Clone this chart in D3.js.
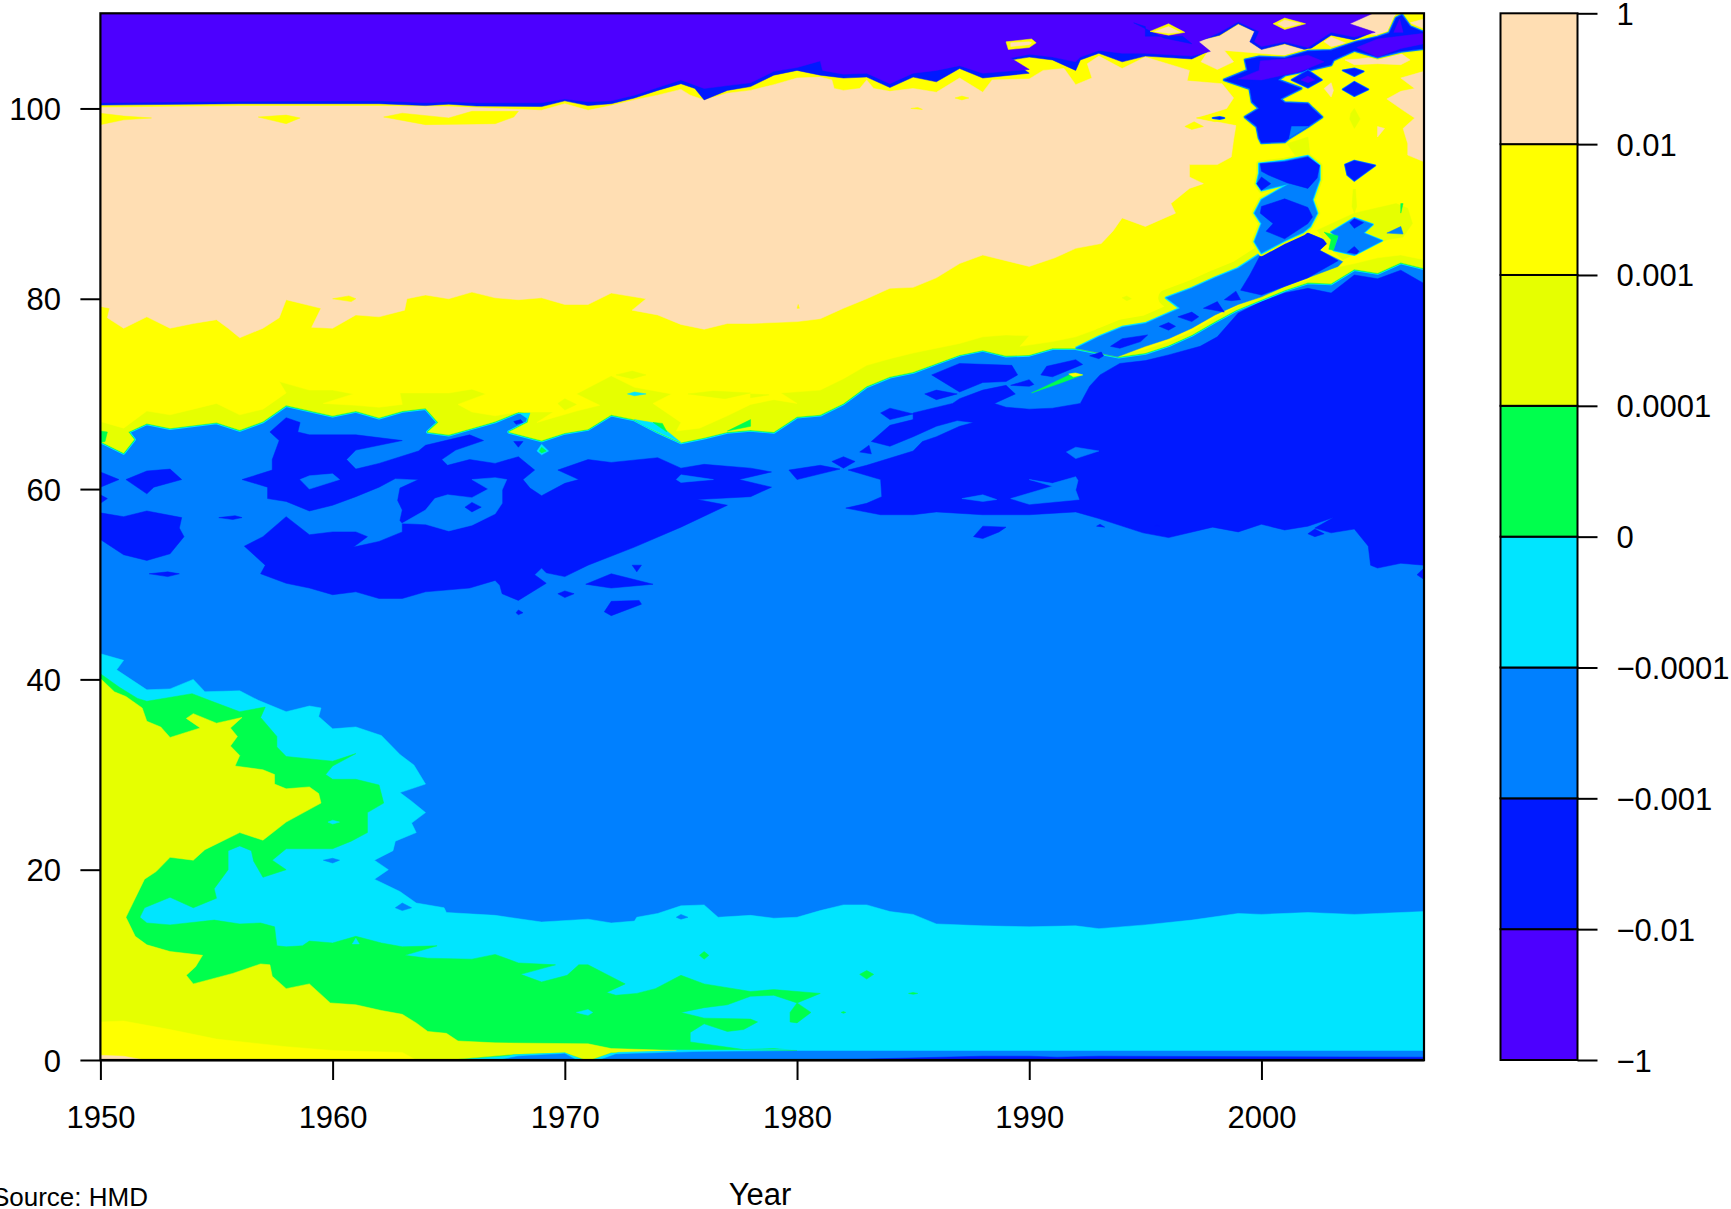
<!DOCTYPE html>
<html lang="en">
<head>
<meta charset="UTF-8">
<title>Mortality change by age and year</title>
<style>
    html, body { margin: 0; padding: 0; background: #fff; overflow: hidden; }
    svg { display: block; }
    text { font-family: "Liberation Sans", Arial, sans-serif; fill: #000; }
    .domain, .tick line { stroke: #000; stroke-width: 2px; }
</style>
</head>
<body>
<svg id="chart" width="1731" height="1209"></svg>
<script src="https://d3js.org/d3.v7.min.js"></script>
<script>
// legend
const levelLabels = ["\u22121", "\u22120.01", "\u22120.001", "\u22120.0001", "0", "0.0001", "0.001", "0.01", "1"];
const bandColors = ["#4C00FF", "#0019FF", "#0080FF", "#00E5FF", "#00FF4D", "#E6FF00", "#FFFF00", "#FFDEB3"];
const [PURPLE, DARK, BLUE, CYAN, GREEN, LIME, YELLOW, WHEAT] = bandColors;

const yearTicks = [1950, 1960, 1970, 1980, 1990, 2000];
const ageTicks = [0, 20, 40, 60, 80, 100];

// contour bands, every vertex is [year, age]
const cyanZone = [[1950,42.7],[1951,42],[1950.7,41],[1952,38.9],[1953,39],[1954,40],[1954.5,38.7],[1956,38.8],[1956.8,37.8],[1958,36.6],[1959,37.2],[1959.5,37],[1959.4,36.1],[1960,34.8],[1961,35],[1962.1,34.1],[1962.9,32.1],[1963.5,31],[1964,29],[1962.9,28.1],[1963.4,27.2],[1964,26],[1963.4,24.9],[1963.6,23.9],[1962.7,23],[1962.6,22],[1961.8,21],[1962.4,20],[1961.8,19],[1962.9,17.7],[1963.6,16.5],[1964.8,16],[1964.9,15.5],[1967,15.2],[1969,14.5],[1971,14.8],[1972,14.4],[1973,14.6],[1973.1,15],[1974,15.4],[1975,16.2],[1976,16.3],[1976.6,15],[1978,15.2],[1979,14.9],[1980,15],[1981,15.7],[1982,16.3],[1983,16.3],[1984,15.6],[1985,15.3],[1986,14.3],[1988,14.1],[1990,14],[1992,14.1],[1993,13.8],[1995,14.2],[1997,14.7],[1999,15.4],[2000,15.3],[2002,15.5],[2004,15.3],[2005,15.4],[2007,15.6],[2007,0],[1950,0]];
const greenZone = [[1950,40.6],[1950.8,39.2],[1951.6,38],[1952,37.7],[1953.95,38.5],[1954.8,37.7],[1956,36.6],[1957.1,37.1],[1956.9,36],[1957.6,34],[1957.6,32.9],[1958,31.9],[1960,31.4],[1961,32.2],[1960,30.9],[1959.7,30],[1960,29.5],[1961,29.5],[1962,28.9],[1962.2,27],[1961.5,26],[1961.5,23.9],[1960.8,23],[1960,22.2],[1958,22.2],[1957.4,21],[1958,20],[1957,19.2],[1956.6,20.9],[1956.5,22],[1956,22.5],[1955.5,22],[1955.5,20],[1954.9,18],[1955,17],[1954,16],[1953,17.1],[1951.9,16],[1951.7,15],[1952,14.4],[1953,14.2],[1954.9,14.7],[1956,14.3],[1956.9,14.4],[1957.5,14],[1957.6,12],[1958,11.9],[1958.7,12],[1959,12.5],[1960,12.3],[1961,13],[1962.1,12.3],[1963,11.9],[1964.5,12],[1963.1,11],[1964.1,10.7],[1966,10.6],[1967,11.1],[1968,10.2],[1969.6,10],[1968.1,9],[1969,8.2],[1970.1,8.9],[1970.6,10],[1971,10],[1972.6,8],[1971.8,7.1],[1972.2,6.8],[1973.1,7],[1973.9,7.5],[1975,8.9],[1976,8],[1978,7.2],[1979,7.4],[1981,7],[1980,6],[1980.6,5],[1980,3.9],[1979.7,4],[1979.7,5],[1980,6],[1979,6.8],[1978,6.7],[1977,5.8],[1976,5.5],[1975,5],[1976,4.4],[1978,4.3],[1978.3,4],[1977.7,3.2],[1977,3],[1976,3.8],[1975.4,2.9],[1975.4,1.9],[1977.7,1.1],[1979,1.2],[1980,1],[1974.8,1.1],[1972,0.8],[1971.2,0.1],[1970.8,0.1],[1970,0.8],[1967.8,0.5],[1965.4,0.1],[1950,0]];
const limeZone = [[1950,40.1],[1950.6,38.7],[1951.1,38.2],[1951.8,37],[1952,35.6],[1952.6,35],[1953,33.9],[1954.3,34.9],[1953.7,35.9],[1954,36.4],[1955,35.4],[1956.1,36],[1955.6,34.9],[1955.9,34],[1955.6,33],[1956,32],[1955.8,30.9],[1957,30.5],[1957.5,30],[1957.5,29],[1958,28.5],[1959,28.7],[1959.4,28],[1959.5,27],[1958,25],[1957,23.1],[1956,23.9],[1954.5,22.1],[1954,21],[1953,21.3],[1952.4,19.8],[1951.9,19],[1951.5,17],[1951.1,15],[1951.5,13],[1952,12.1],[1953,11.4],[1954.4,11],[1954.1,9.8],[1953.7,8.9],[1954,8],[1955.7,9.1],[1956.9,10.1],[1957.3,10],[1957.4,8.8],[1958,7.5],[1959,8],[1959.9,6],[1961,5.8],[1962.1,5.2],[1963,4.8],[1963.6,3.9],[1964.1,3],[1964.9,2.8],[1965.4,2],[1967,1.8],[1971,1.7],[1972,1.2],[1974.8,1],[1972,0.8],[1971.2,0.1],[1970.8,0.1],[1970,0.8],[1967.8,0.6],[1965.4,0.1],[1950,0]];
const yellowCorner = [[1950,4],[1951,4.1],[1953,3.2],[1955,2.2],[1958,1.4],[1960,1],[1963,0.8],[1963.6,0],[1950,0]];
const wheatCorner = [[1950,0.5],[1951,0.4],[1951.9,0],[1950,0]];
const bottomCyan = [[1966.9,0],[1967.8,0.55],[1970,0.75],[1970.7,0]];
const bottomBlueA = [[1967.2,0],[1968,0.4],[1970,0.65],[1970.5,0]];
const bottomBlueB = [[1971.5,0],[1972.2,0.6],[1975.5,0.85],[1980,0.95],[2007,0.95],[2007,0]];
const bottomDark = [[1979,0],[1983,0.1],[1988,0.4],[1990,0.4],[1991.2,0.3],[1993,0.4],[2000,0.35],[2007,0.3],[2007,0]];
const bottomCyanTail = [[1971.8,0.3],[1972.3,0.8],[1975.5,1],[1980,1.1],[1975,0.9]];

const darkMain = [[2007,81.6],[2006,83],[2005,82.1],[2004,82.5],[2003,80.6],[2002,81.1],[2001,80.6],[2000,79.7],[1999,78.5],[1998.1,76],[1997.36,75],[1996,74.1],[1995,73.5],[1993.9,73.2],[1993.05,72],[1992.6,70.8],[1992.2,69],[1991,68.5],[1990,68.4],[1989,68.6],[1988.5,69],[1989.4,70],[1989,70.9],[1988,70.4],[1987,69.5],[1986.7,69],[1985,68],[1985,67.3],[1984,66.7],[1983.2,65],[1984,64.5],[1985,65.5],[1986,66.6],[1986.9,67.2],[1987.6,67],[1987,66.6],[1986,65.5],[1985.4,65],[1985,64],[1983,62.5],[1982.2,62],[1983.6,61],[1983.65,59.2],[1983,58.5],[1982.1,58],[1983.6,57.3],[1985,57.3],[1986,57.6],[1988,57.3],[1990,57.3],[1992,57.6],[1993,56.9],[1994.9,55.4],[1996,54.9],[1997.9,56],[1999,55.5],[2000,56.3],[2001,55.7],[2002,56.1],[2003.1,57],[2002.3,55.9],[2003,55.4],[2004,55.8],[2004.6,54],[2004.7,52],[2005,51.7],[2006,52.2],[2007,52]];
const darkMid = [[1957.3,66],[1958,67.5],[1958.6,67],[1958.5,66],[1959,65.7],[1961,65.7],[1963,65.1],[1961,64.1],[1960.6,63.1],[1961,62.1],[1962,62.7],[1963.7,64],[1964,64.6],[1965.9,65.7],[1966.5,65.1],[1965.3,64.1],[1964.7,63.1],[1964.95,62.5],[1965.9,63.1],[1967,62.7],[1968,63.4],[1968.7,62],[1968.2,61],[1968.5,60.1],[1969,59.3],[1970,60.6],[1970.6,61],[1969.7,62],[1971,63.1],[1972,62.8],[1974,63.3],[1975,62.2],[1976,62.6],[1977,62.4],[1978,62.2],[1978.9,61.8],[1977.5,61],[1978.9,60.2],[1978,59.2],[1975.7,58.9],[1977,58.3],[1975,56],[1973,53.9],[1971,52],[1970,50.8],[1969.2,51.2],[1969,51.7],[1968.7,51],[1969.2,50.1],[1968,48.3],[1967.3,49],[1967.2,49.9],[1967,50.4],[1965.9,49.6],[1964,49.2],[1963,48.5],[1962,48.5],[1961,49.2],[1960,48.9],[1959,49.6],[1958,50.1],[1956.9,51.1],[1957.1,52],[1956.2,54],[1957,55],[1958,57.1],[1959,55.2],[1960,55.5],[1961,55.5],[1961.5,55],[1960.9,53.9],[1962,54.5],[1963,55.5],[1963,56.4],[1962.9,56.7],[1963,57.8],[1962.8,58.8],[1962.9,60.1],[1963.7,61],[1962.7,61.1],[1962,60.2],[1961,59.2],[1960,58.3],[1959,57.7],[1958,58.7],[1957.2,59],[1957.2,60.2],[1956.1,61],[1957.4,62],[1957.4,63.1],[1957.7,65.1]];
const midHoleA = [[1958.6,61],[1959,61.4],[1960,61.6],[1960.3,61],[1959,60]];
const midHoleB = [[1963,56.4],[1964,57.8],[1964.4,59],[1964.95,59.4],[1966,59.1],[1966.7,60],[1966,61],[1967,61.2],[1967.5,61],[1967.3,59.9],[1967.3,58.5],[1967,57.4],[1966,56.2],[1965,55.6],[1964,56.3]];
const midHoleC = [[1974.8,61],[1975,61.5],[1976.4,61],[1975,60.7]];
const mainHoleA = [[1991.6,63.9],[1992,64.4],[1993,64],[1992,63.2]];
const mainHoleB = [[1989.2,59],[1991,60.3],[1990,61],[1991,60.6],[1992,61.3],[1992.1,60.9],[1992,59.9],[1992.15,58.9],[1990,58.4]];
const mainHoleC = [[1987.1,59],[1988,59.4],[1988.6,58.9],[1988,58.7]];
const darkSpots = [
    [[1965.7,58.1],[1966,58.6],[1966.4,58.1],[1966,57.6]],
    [[1950,61.8],[1950.8,61],[1950,60.2]],
    [[1951.1,61],[1952,61.9],[1953,62.1],[1953.5,61],[1952.3,60.2],[1952,59.5]],
    [[1950,59.4],[1950.3,59],[1950,58.5]],
    [[1950,57.5],[1951,57.1],[1952,57.7],[1953.5,57],[1953.4,55.9],[1953.6,55],[1953,53.2],[1952,52.5],[1951,53.1],[1950,54.7]],
    [[1952.1,51.1],[1952.9,51.3],[1953.4,51.1],[1952.9,50.8]],
    [[1955.1,57],[1955.8,57.2],[1956.1,57],[1955.7,56.8]],
    [[1967.8,65],[1968.2,65],[1968,64.4]],
    [[1967.8,67.1],[1968.1,67.3],[1968.2,67],[1967.9,66.8]],
    [[1970.9,50],[1972,51.1],[1973.8,50],[1972,49.6]],
    [[1969.7,49],[1970,49.3],[1970.4,49],[1970,48.6]],
    [[1971.7,47.1],[1972,48.2],[1973.2,48.3],[1973.3,47.9],[1972,46.7]],
    [[1967.9,47],[1968,47.3],[1968.2,47],[1968,46.8]],
    [[1972.9,52],[1973.3,52],[1973.1,51.3]],
    [[1985.8,72],[1987,73.2],[1989.25,73],[1989.5,72],[1989,71.3],[1988,71.2],[1987,70.2]],
    [[1990.5,72],[1990.75,72.9],[1992,73.6],[1992.3,73.1],[1991,71.8]],
    [[1989.2,70.9],[1990,71.5],[1990.2,71],[1990,70.8]],
    [[1985.5,70],[1986,70.4],[1986.9,70],[1986,69.4]],
    [[1983.6,68],[1984,68.5],[1985,67.9],[1984,67.3]],
    [[1982.7,63.9],[1983.1,64.6],[1983.2,63.7]],
    [[1981.5,62.9],[1982,63.4],[1982.5,62.9],[1982,62.2]],
    [[1979.65,62],[1981,62.5],[1981.85,62.1],[1980,61]],
    [[1987.6,55],[1988,56.1],[1989,56],[1988.7,55.5],[1988,54.8]],
    [[1992.9,56.1],[1993.05,56.3],[1993.25,56]],
    [[2006.7,51],[2007,51.7],[2007,50.5]],
    [[2002,55.3],[2002.3,55.8],[2002.7,55.3],[2002.3,55]],
    [[1995.4,56.1],[1995.5,56.3],[1995.6,56.1]]
];
const blueSpotsInCyan = [
    [[1962.7,16],[1963,16.5],[1963.4,16],[1963,15.7]],
    [[1959.6,21],[1960,21.2],[1960.3,21],[1960,20.7]],
    [[1974.8,15],[1975,15.3],[1975.3,15],[1975,14.8]]
];
const cyanSpots = [
    [[1970.5,5],[1971,5.3],[1971.2,5],[1971,4.7]],
    [[1960.85,12.2],[1961,12.8],[1961.15,12.2]],
    [[1959.8,25],[1960,25.2],[1960.3,25],[1960,24.8]]
];
const greenSpots = [
    [[1975.8,11],[1976,11.4],[1976.2,11],[1976,10.6]],
    [[1982.7,9],[1983,9.4],[1983.3,9],[1983,8.5]],
    [[1981.9,5],[1982,5.1],[1982.1,5],[1982,4.9]],
    [[1984.8,7],[1985,7.1],[1985.2,7],[1985,6.9]]
];

const limeUpper = [[1950,65],[1951,63.8],[1951.45,65.2],[1951.2,66],[1952,66.9],[1953,66.4],[1955,67],[1956,66.2],[1957,67.1],[1958,68.8],[1960,67.7],[1961,68.2],[1962,67.5],[1963,68.2],[1964,68.5],[1964.55,67],[1964.1,66],[1965,65.7],[1966,66.4],[1967,67.1],[1968,68.1],[1968.5,68],[1968.4,67],[1967.6,66],[1969,65.1],[1970,65.9],[1971,66.3],[1972,67.8],[1973,67.3],[1974,66],[1975,64.9],[1976,65.4],[1977,66],[1978,66.2],[1979,66],[1980,67.6],[1981,67.8],[1982,69],[1983,70.8],[1984,71.8],[1985,72.3],[1986,73.2],[1987,74.1],[1988,74.6],[1989,74],[1990,74.1],[1991,74.8],[1992,74.8],[1993.85,73.9],[1995,74.3],[1996,75.1],[1997,76.2],[1998,77.6],[1998.9,78.8],[2000,79.9],[2001,80.9],[2002,81.7],[2003,81.6],[2004,83.1],[2005,82.7],[2006,83.8],[2007,83.2],[2007,110],[1950,110]];
const yellowMain = [[1950,67.1],[1951,66.4],[1952,68.2],[1953,67.8],[1954,68.4],[1955,69],[1956,67.8],[1957,68.4],[1958,70.1],[1957.7,71.3],[1959,70.4],[1960,70.4],[1960.9,70],[1959.6,69],[1961,68.8],[1962,68.6],[1963,68.9],[1962.9,70.1],[1965,70.1],[1966,70.5],[1966.6,70],[1965.4,68.9],[1966,68.1],[1967,67.7],[1968,68.1],[1969.5,68.1],[1968.8,67],[1970.5,68.2],[1971.5,68.8],[1970.5,70],[1972,71.9],[1973,70.7],[1974.6,70],[1973.8,69],[1975,67],[1974.8,66.1],[1975.8,66.4],[1977,67.7],[1978,68.9],[1979,69.4],[1980,69],[1979.3,70.1],[1981,70.4],[1982,71.6],[1983,73],[1984,73.7],[1985,74.3],[1986,74.8],[1987,75.3],[1988,76],[1989,76.2],[1990,76.1],[1989.6,75],[1991,75.5],[1992,76],[1993,76.9],[1993.85,74.15],[1995,74.7],[1996,75.5],[1997,76.6],[1998,78],[1999,79.3],[2000,80.3],[2001,81.3],[2002,82],[2002.6,83],[2004,83.7],[2005,84.3],[2006,84.6],[2007,84.1],[2007,110],[1950,110]];
const wheatMain = [[1950,100.1],[1956,100.25],[1962,100.25],[1965,100.2],[1969,99.8],[1970,100.5],[1971,99.8],[1972,100.3],[1973,100.9],[1974,101.4],[1975,102],[1975.4,101.4],[1976,100.9],[1977,101.6],[1978,101.9],[1979,102.5],[1980,103.2],[1981,103.3],[1981.5,103],[1981.6,102.1],[1982,101.9],[1982.7,102.1],[1983,103],[1983.3,102.1],[1984,101.8],[1985,102.1],[1986,101.7],[1987,103.2],[1988,101.7],[1988.4,103],[1990,103.1],[1990.6,104],[1991.5,104.2],[1992,102.5],[1992.7,103.2],[1992.5,104.7],[1993,105.5],[1994,104.2],[1995,105.4],[1996.9,104],[1996.8,102.9],[1998.3,102.6],[1998.8,101.1],[1998.5,100],[1997.2,99],[1998.9,98.2],[1998.8,96.7],[1998.7,94.9],[1998.1,94.1],[1996.9,94.1],[1996.9,92.8],[1997.5,92.1],[1996.9,91.6],[1996.1,90],[1996.3,89],[1995,87.6],[1994,88.5],[1993.6,87.1],[1993.1,85.8],[1992,85.3],[1991.1,84.3],[1990,83.4],[1988,84.6],[1987,83.7],[1986,82.2],[1985,81.2],[1984,81.1],[1983,80],[1982,79],[1981,77.9],[1980,77.6],[1978,77.4],[1977,77.4],[1976,76.8],[1975,77.3],[1974,78.3],[1972.9,78.8],[1973.5,80],[1972,80.6],[1971,79.4],[1970,79.4],[1969,80.1],[1968,79.9],[1967,80.1],[1966,80.7],[1965,80],[1964,80.4],[1963.2,80],[1963.1,78.8],[1962,78.1],[1961,78.3],[1960,76.9],[1959.1,77],[1959.5,79],[1958,79.9],[1957.7,78],[1957,76.9],[1956,75.9],[1955.5,76.9],[1955,77.8],[1954,77.4],[1953,76.9],[1952,78.1],[1951,76.9],[1950.3,78],[1950.4,79],[1950,79.2]];
const wheatRightEdge = [[2007,103.9],[2006,103.2],[2006.6,102.1],[2006,101.8],[2005.4,101],[2006.1,99.8],[2006.6,99],[2006.1,97.9],[2006.3,96.3],[2006.3,95.1],[2007,94.4]];
const wheatTopLeft = [[1997,107],[1998.2,107.6],[1999,108.8],[1999.7,108.1],[1999.5,107],[2000,106.2],[2001,106.7],[2001.8,106.2],[2001,105.6],[1998.4,106.1],[1998.8,104.9],[1998.1,104.1],[1997.4,104.9],[1997.7,106]];
const wheatTopRight = [[2003.6,108.9],[2004.7,109.9],[2005.8,110],[2005.6,108.9],[2005.8,108.1],[2005,107.7],[2004.5,107.9]];
const wheatCornerTop = [[2006.4,109],[2007,109.4],[2007,108.4]];
const wheatBits = [
    [[2002.7,102.1],[2003,102.7],[2003.1,101.9],[2003,101.2]],
    [[2005,98.1],[2005.3,97.9],[2005,97]],
    [[2000.7,108.9],[2001,109.3],[2001.7,108.9],[2001,108.5]],
    [[2003.6,105.1],[2004.2,105.2],[2006,105.8],[2006.4,105.1],[2006,104.6],[2005,104.7],[2004,104.6]],
    [[2002.7,107],[2003,107.5],[2003.7,106.8],[2003,106.5]],
    [[1995.4,108.1],[1996,108.6],[1996.5,108],[1996,107.9]],
    [[1989.2,106.9],[1990,107],[1990.1,106.9],[1990,106.7],[1989.2,106.5]]
];
const yellowBits = [
    [[1950,99.5],[1951,99.2],[1952.2,99],[1951,98.8],[1950,98.3]],
    [[1956.8,99.1],[1958,99.3],[1958.6,99],[1958,98.4],[1957.3,98.8]],
    [[1962.2,99.1],[1963,99.5],[1965,99],[1966,99.7],[1968,99.7],[1967.8,99.1],[1967,98.4],[1964,98.3]],
    [[1960,80],[1960.7,80.3],[1961,80],[1960.8,79.7]],
    [[1986.8,101.1],[1987.1,101.3],[1987.4,101.1],[1987.1,100.9]],
    [[1984.9,100],[1985.2,100.1],[1985.4,99.9]],
    [[1980,79],[1980.05,79.4],[1980.1,79]],
    [[1996.7,98.1],[1997.1,98.6],[1997.5,98.1],[1997,97.8]],
    [[1997.2,99],[1997.9,99.4],[1998.8,99],[1998,98.6]]
];
const limeBits = [
    [[1972.2,72],[1972.9,72.4],[1973.5,72],[1972.9,71.6]],
    [[1975.3,70],[1976.4,70.3],[1978,70.1],[1976.9,69.5]],
    [[1969.7,69],[1970,69.5],[1970.5,68.9],[1970,68.3]],
    [[1978,70],[1978.8,69.9],[1978,69.6]],
    [[1994,80.1],[1994.2,80.3],[1994.4,80],[1994.2,79.8]],
    [[2003.85,99.5],[2004,100],[2004.25,98.9],[2004,97.9],[2003.8,98.9]],
    [[2001.1,96.3],[2002,97],[2002.1,94.9],[2001.5,94.9]],
    [[2003.95,91.5],[2004.05,91.5],[2004.1,89.7],[2004,89],[2003.9,89.7]]
];
const limePatchRight = [[2002.4,87.2],[2004,89],[2005.8,90],[2006.3,89.5],[2006.5,87.9],[2006.1,86.5],[2005.4,86.2],[2003.5,84.1],[2003,85.2]];
const bluePatchRight = [[2003,87],[2004,88.5],[2004.8,87.8],[2004.4,86.9],[2005.2,86.1],[2004,84.6],[2003.1,85.1],[2003.3,86.4]];
const greenSliverRight = [[2002.7,87],[2003.3,86.6],[2003.1,85.1],[2002.9,85.2],[2003,86.2]];
const patchDarkA = [[2003.8,88],[2004,88.4],[2004.4,88],[2004,87.4]];
const patchDarkB = [[2003.7,84.9],[2004,85.5],[2004.2,85],[2004.1,84.7]];
const patchTriangle = [[2005.4,86.9],[2006,87.6],[2006.1,86.8]];
const sliverTop = [[2006,90],[2006.1,90],[2006,89]];

const cyanBits = [
    [[1968.8,64],[1969,64.7],[1969.3,64],[1969,63.6]],
    [[1972.7,70],[1973,70.2],[1973.5,70],[1973,69.8]],
    [[1973,67.3],[1974,66.9],[1975,64.9],[1974,66],[1973.3,66.8]],
    [[1968.4,67.4],[1968.5,68],[1968.1,67.9]],
    [[2001.7,96.2],[2002,96.3],[2002,95.1],[2001.7,95.6]]
];
const greenBits = [
    [[1968.9,64],[1969,64.4],[1969.2,64],[1969,63.8]],
    [[1950,66.1],[1950.3,66],[1950.2,65],[1950,64.9]],
    [[1973.8,67],[1974.2,66.9],[1974.4,66]],
    [[1977,66.1],[1978,67.3],[1978,66.6]],
    [[1990.1,70.1],[1991.9,72.2],[1992.3,72],[1991.3,71.1]]
];
const yellowSliverTip = [[1991.7,72.1],[1992,72.2],[1992.3,72],[1991.9,71.8]];

// upper edge of the bands that stop at about age 100
const blueCapEdge = [[1950,100.35],[1956,100.5],[1962,100.5],[1964,100.3],[1965,100.45],[1966.2,100.25],[1969,100.2],[1970,100.8],[1971,100.3],[1972,100.5],[1973,101.1],[1974,101.9],[1975,102.6],[1975.6,102.1],[1976,100.9],[1977,101.9],[1978,102.3],[1979,103.5],[1980,104],[1981,103.5],[1982,103.2],[1983,103.3],[1984,102.2],[1985,103.3],[1986,102.8],[1987,104.2],[1988,103.2],[1990,103.7],[1989.2,105.1],[1990,105.4],[1991,105.1],[1992,104],[1992.2,105.1],[1993,105.8],[1994,104.9],[1995,105.5],[1997,105.2],[1997.7,106],[1997.1,107],[1998.2,107.7],[1999,108.9],[1999.7,108.1],[1999.5,107],[2000,106.2],[2001,106.8],[2002,106.1],[2003,107.7],[2004,107.2],[2004.7,107.9],[2003.6,108.9],[2004.7,110],[1950,110]];
const purpleCapEdge = [[1950,100.6],[1956,100.75],[1962,100.8],[1964,100.6],[1965,100.7],[1966.2,100.6],[1969,100.6],[1970,101],[1971,100.7],[1972,100.8],[1973,101.4],[1974,102.2],[1975,103],[1976,102.1],[1977,102.4],[1978,102.7],[1979,103.9],[1980,104.3],[1981,105],[1981.1,104],[1982,103.6],[1983,103.7],[1984,102.6],[1985,103.7],[1986,104],[1987,104.5],[1988,103.7],[1990,104.1],[1989.2,105.3],[1990,105.7],[1991,105.4],[1992,104.9],[1992.2,105.4],[1993,106.1],[1994,105.8],[1995,105.8],[1997,105.5],[1997.8,106],[1997.3,107],[1998.2,108],[1999,109.1],[1999.9,108.1],[1999.7,107],[2000,106.5],[2001,107],[2002,106.4],[2003,108],[2004,107.5],[2004.9,108],[2003.8,108.9],[2004.8,110],[1950,110]];
const darkSpotsOnPurple = [
    [[1994.5,109],[1995,108.6],[1995,107.6],[1996.6,107.6],[1997,106.8],[1995.8,107.4]]
];
const yellowOnPurple = [
    [[1995.2,108.1],[1996,108.9],[1996.7,108],[1996,107.7]],
    [[1989,107],[1990.1,107.3],[1990.3,106.9],[1990,106.4],[1989.1,106.2]],
    [[2000.5,108.9],[2001,109.5],[2001.9,108.9],[2001,108.3]]
];

// wedge and column of low values on the right
const wedgeTop = [[1992,74.8],[1993,76],[1994,77],[1995,77.4],[1996.5,79],[1995.9,80.1],[1997,81.1],[1998,82.2],[1999,83.2],[2000,84.8]];
const wedgeRest = [[2000.3,85.4],[2001,86.4],[2002,86.9],[2002.9,86],[2002.5,85.1],[2003.5,83.9],[2003.3,83.4],[2002,82.2],[2001,81.3],[2000,80.2],[1999,79.4],[1998,78.3],[1997,76.9],[1996,75.8],[1995,75],[1993.8,73.9]];
const wedgeDark = [[2000,84.8],[1999.5,82.5],[1999.1,80.9],[2000,80.4],[2002,82.2],[2003.3,84],[2002.5,85.1],[2002.9,86],[2002,86.9],[2001,86.2]];
const wedgeSpots = [
    [[1998.4,79.9],[1998.9,80.8],[1999.1,79.9],[1998.7,79.8]],
    [[1997.5,79],[1998.1,79.7],[1998.4,78.6]],
    [[1996.4,78.1],[1997,78.6],[1997.3,78.1],[1997,77.6]],
    [[1995.6,77.1],[1996,77.5],[1996.3,77.1],[1996,76.7]],
    [[1993.5,75],[1994,75.8],[1995.1,76.2],[1994.8,75.5],[1993.9,74.8]],
    [[1992.6,74],[1993.1,74.4],[1993.2,74],[1993,73.7]]
];
const columnBlue = [[1999.9,94.2],[2001,94.5],[2002,95],[2002.5,94],[2002.5,92.5],[2002.2,90.4],[2002.4,89],[2002.1,87.6],[2001.8,87],[2001,86.1],[2000,84.8],[1999.7,86],[2000,87.9],[1999.7,89],[2000,90.4],[2001.2,92.1],[2000,91.4],[1999.8,92.1],[1999.9,93.2]];
const columnDarkMid = [[1999.95,94.2],[2001,94.4],[2002,94.9],[2002.5,94],[2002.4,92.7],[2002,91.6],[2001.1,92.2],[2000.3,93],[2000,93.4]];
const columnDarkSmall = [[1999.8,92.1],[2000,92.8],[2000.4,92.1],[2000,91.4]];
const columnDarkLow = [[2000,89.7],[2001,90.5],[2002,89.6],[2002.2,88.6],[2002,87.9],[2001,86.3],[2000.2,87.1],[2000.5,87.9],[1999.95,89]];
const columnTop = [[1998.4,103],[1999.4,104],[1999.3,105.1],[1999.9,105.4],[2001,105.3],[2002,106],[2003,106.1],[2004.1,107],[2005,107.5],[2005.5,107.9],[2005.8,109.5],[2006.05,109.8],[2006.4,108.6],[2007,108],[2007,106.3],[2006,106],[2005,105.4],[2004,106.1],[2003.1,105.1],[2003,104.6],[2002,104],[2001,103.5],[2000.7,103],[2001.7,102.1],[2000.8,101],[2001,100.6],[2002,100.5],[2002.2,100],[2002.6,99.1],[2002,98.1],[2001.2,96.9],[2001,96.5],[2000,96.4],[1999.9,96.9],[1999.8,98.1],[1999.3,99.1],[1999.9,100],[1999.6,100.7],[1999.5,102.1]];
const columnTopLight = [[2001.3,98.1],[2002,98.1],[2001.2,96.9]];
const purpleColumn = [[1999.95,105],[2001,105.2],[2002,105.6],[2002.7,104.9],[2001.7,103.9],[2000,103],[1999,103.1],[1999.9,104]];
const purpleBandRight = [[2004.1,106.4],[2005,107.3],[2007,107.9],[2007,106.8],[2006,106.3],[2005,105.4]];
const purpleSpike = [[2005.7,108],[2005.95,109.4],[2006.1,108]];
const rightSpots = [
    [[2001.3,103],[2002,104],[2002.6,103],[2002,102.2]],
    [[2003.5,104],[2004,104.2],[2004.4,103.9],[2004,103.4]],
    [[2003.5,102],[2004,102.8],[2004.6,102],[2004,101.3]],
    [[2003.6,94.1],[2004,94.5],[2004.9,94],[2004,92.4],[2003.7,93]],
    [[1997.9,99],[1998.2,99.1],[1998.4,99],[1998.2,98.9]]
];
const purpleDiamond = [[2001.7,103],[2002,103.4],[2002.3,103],[2002,102.7]];

const svg = d3.select("#chart");
const x = d3.scaleLinear().domain([1950, 2007]).range([100.4, 1424]);
const y = d3.scaleLinear().domain([0, 110]).range([1060, 13.3]);
const legendY = d3.scalePoint().domain(levelLabels).range([1060, 13.3]);

const outline = d3.line().x(d => x(d[0])).y(d => y(d[1]));
const closed = d3.line().x(d => x(d[0])).y(d => y(d[1])).curve(d3.curveLinearClosed);

svg.append("clipPath").attr("id", "plotClip").append("rect")
    .attr("x", x(1950)).attr("y", y(110))
    .attr("width", x(2007) - x(1950)).attr("height", y(0) - y(110));

const plot = svg.append("g").attr("clip-path", "url(#plotClip)");

function band(points, fill) {
    plot.append("path").attr("d", closed(points))
        .attr("fill", fill).attr("stroke", fill).attr("stroke-width", 0.5);
}
function bands(list, fill) {
    list.forEach(p => band(p, fill));
}
// a filled band with narrower bands showing around its edge
function fringed(points, fill, edges) {
    edges.forEach(e => {
        plot.append("path").attr("d", closed(points)).attr("fill", "none")
            .attr("stroke", e[0]).attr("stroke-width", e[1]).attr("stroke-linejoin", "round");
    });
    band(points, fill);
}

plot.append("rect").attr("x", x(1950)).attr("y", y(110))
    .attr("width", x(2007) - x(1950)).attr("height", y(0) - y(110)).attr("fill", BLUE);

band(cyanZone, CYAN);
band(greenZone, GREEN);
bands(cyanSpots, CYAN);
bands(greenSpots, GREEN);
bands(blueSpotsInCyan, BLUE);
band(limeZone, LIME);
band(yellowCorner, YELLOW);
band(wheatCorner, WHEAT);
band(bottomCyanTail, CYAN);
band(bottomCyan, CYAN);
band(bottomBlueA, BLUE);
band(bottomBlueB, BLUE);
band(bottomDark, DARK);

band(darkMain, DARK);
band(darkMid, DARK);
[midHoleA, midHoleB, midHoleC, mainHoleA, mainHoleB, mainHoleC].forEach(p => band(p, BLUE));
bands(darkSpots, DARK);

fringed(limeUpper, LIME, [[CYAN, 3.5], [GREEN, 1.8]]);
band(yellowMain, YELLOW);
bands(cyanBits, CYAN);
bands(greenBits, GREEN);
band(yellowSliverTip, YELLOW);
band(wheatMain, WHEAT);
bands(yellowBits.slice(0, 6), YELLOW);
bands(limeBits.slice(0, 5), LIME);
band(wheatRightEdge, WHEAT);
band(wheatTopLeft, WHEAT);
band(wheatTopRight, WHEAT);
band(wheatCornerTop, WHEAT);
bands(yellowBits.slice(6), YELLOW);

band(blueCapEdge, DARK);
band(purpleCapEdge, PURPLE);
bands(darkSpotsOnPurple, DARK);
bands(yellowOnPurple, YELLOW);
bands(wheatBits, WHEAT);
bands(limeBits.slice(5), LIME);

// wedge: lime and cyan run along its upper edge only, from 1993 on so they stay off the blue below
plot.append("path").attr("d", outline(wedgeTop.slice(1))).attr("fill", "none")
    .attr("stroke", LIME).attr("stroke-width", 16).attr("stroke-linejoin", "round");
plot.append("path").attr("d", outline(wedgeTop)).attr("fill", "none")
    .attr("stroke", CYAN).attr("stroke-width", 3).attr("stroke-linejoin", "round");
band(wedgeTop.concat(wedgeRest), BLUE);
band(wedgeDark, DARK);
bands(wedgeSpots, DARK);

fringed(limePatchRight, LIME, []);
fringed(bluePatchRight, BLUE, [[CYAN, 2]]);
band(greenSliverRight, GREEN);
band(patchDarkA, DARK);
band(patchDarkB, DARK);
band(patchTriangle, BLUE);
band(sliverTop, GREEN);

fringed(columnBlue, BLUE, [[LIME, 6], [CYAN, 2.5]]);
band(columnDarkMid, DARK);
band(columnDarkSmall, DARK);
band(columnDarkLow, DARK);
fringed(columnTop, DARK, [[LIME, 5], [BLUE, 3]]);
band(columnTopLight, BLUE);
band(purpleColumn, PURPLE);
band(purpleBandRight, PURPLE);
band(purpleSpike, PURPLE);
rightSpots.forEach(p => fringed(p, DARK, [[BLUE, 2]]));
band(purpleDiamond, PURPLE);

// box and axes
svg.append("rect").attr("x", x(1950)).attr("y", y(110))
    .attr("width", x(2007) - x(1950)).attr("height", y(0) - y(110))
    .attr("fill", "none").attr("stroke", "#000").attr("stroke-width", 2.2);

const xAxis = svg.append("g").attr("transform", `translate(0,${y(0)})`)
    .call(d3.axisBottom(x).tickValues(yearTicks).tickSize(20).tickSizeOuter(0).tickFormat(d3.format("d")));
xAxis.selectAll("text").attr("y", 68).attr("dy", 0).attr("font-size", 31)
    .attr("font-family", "Liberation Sans");

const yAxis = svg.append("g").attr("transform", `translate(${x(1950)},0)`)
    .call(d3.axisLeft(y).tickValues(ageTicks).tickSize(20).tickSizeOuter(0));
yAxis.selectAll("text").attr("x", -39.5).attr("dy", 0).attr("y", 11).attr("font-size", 31)
    .attr("font-family", "Liberation Sans");
yAxis.select(".domain").remove();

svg.append("text").attr("x", 760).attr("y", 1205).attr("text-anchor", "middle")
    .attr("font-size", 31).text("Year");
svg.append("text").attr("x", 148).attr("y", 1206).attr("text-anchor", "end")
    .attr("font-size", 26).text("Source: HMD");

// colour key
const legendLeft = 1500.5, legendRight = 1577.5;
svg.append("g").selectAll("rect")
    .data(bandColors)
    .enter()
    .append("rect")
    .attr("x", legendLeft)
    .attr("width", legendRight - legendLeft)
    .attr("y", (d, i) => legendY(levelLabels[i + 1]))
    .attr("height", (d, i) => legendY(levelLabels[i]) - legendY(levelLabels[i + 1]))
    .attr("fill", d => d)
    .attr("stroke", "#000")
    .attr("stroke-width", 2);

const legendAxis = svg.append("g").attr("transform", `translate(${legendRight},0)`)
    .call(d3.axisRight(legendY).tickSize(20).tickSizeOuter(0));
legendAxis.select(".domain").remove();
legendAxis.selectAll("text").attr("x", 39).attr("dy", 0).attr("y", 11).attr("font-size", 31)
    .attr("font-family", "Liberation Sans");
</script>
</body>
</html>
